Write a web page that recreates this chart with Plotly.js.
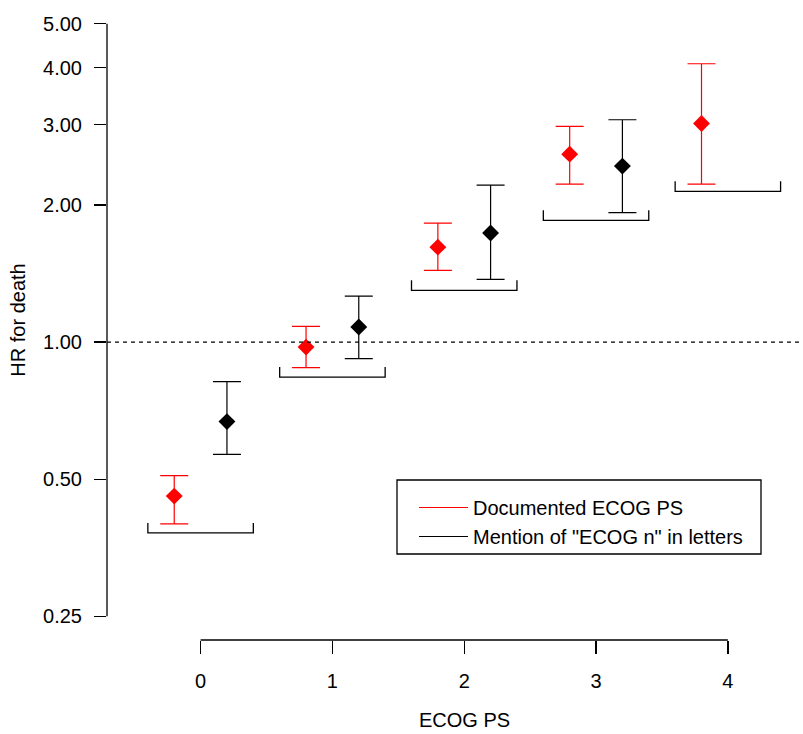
<!DOCTYPE html>
<html>
<head>
<meta charset="utf-8">
<script src="https://cdn.plot.ly/plotly-3.0.1.min.js"></script>
<style>html,body{margin:0;padding:0;background:#fff;}</style>
</head>
<body>
<div id="chart" style="width:803px;height:734px;"></div>
<script>
// ECOG performance status categories
var ecog = [0, 1, 2, 3, 4];
var tickLabelsY = ['0.25', '0.50', '1.00', '2.00', '3.00', '4.00', '5.00'];
var tickValsY = [0.25, 0.5, 1, 2, 3, 4, 5];

// Documented ECOG PS (red): hazard ratio and 95% CI
var redHR = [0.459, 0.975, 1.616, 2.586, 3.020];
var redLo = [0.399, 0.879, 1.437, 2.222, 2.222];
var redHi = [0.509, 1.083, 1.825, 2.975, 4.084];

// Mention of "ECOG n" in letters (black): hazard ratio and 95% CI
var blackPS = [0, 1, 2, 3];
var blackHR = [0.669, 1.079, 1.735, 2.434];
var blackLo = [0.567, 0.920, 1.373, 1.923];
var blackHi = [0.819, 1.262, 2.211, 3.077];

// group brackets under each ECOG category
var bracketY = [0.381, 0.838, 1.299, 1.850, 2.142];

var seriesNames = ['Documented ECOG PS', 'Mention of "ECOG n" in letters'];

var FONT = '"Liberation Sans", Arial, Helvetica, sans-serif';
var FS = 20;

function sub(a, b) { return a.map(function (v, i) { return v - b[i]; }); }

var redX = ecog.map(function (v) { return v - 0.2; });
var blackX = blackPS.map(function (v) { return v + 0.2; });

var bx = [], by = [];
ecog.forEach(function (g, i) {
  var b = bracketY[i], k = 1.052;
  bx.push(g - 0.4, g - 0.4, g + 0.4, g + 0.4, null);
  by.push(b * k, b, b, b * k, null);
});

var traces = [
  {x: [null], y: [null], type: 'scatter', mode: 'lines', name: seriesNames[0],
   line: {color: '#ff0000', width: 1.2}, hoverinfo: 'skip'},
  {x: [null], y: [null], type: 'scatter', mode: 'lines', name: seriesNames[1],
   line: {color: '#000000', width: 1.2}, hoverinfo: 'skip'},
  {x: bx, y: by, type: 'scatter', mode: 'lines', showlegend: false,
   line: {color: '#000000', width: 1.3}, hoverinfo: 'skip', connectgaps: false},
  {x: redX, y: redHR, type: 'scatter', mode: 'markers', showlegend: false,
   name: seriesNames[0],
   marker: {symbol: 'diamond', size: 13, color: '#ff0000'},
   error_y: {type: 'data', symmetric: false, array: sub(redHi, redHR), arrayminus: sub(redHR, redLo),
             color: '#ff0000', thickness: 1.2, width: 14}},
  {x: blackX, y: blackHR, type: 'scatter', mode: 'markers', showlegend: false,
   name: seriesNames[1],
   marker: {symbol: 'diamond', size: 13, color: '#000000'},
   error_y: {type: 'data', symmetric: false, array: sub(blackHi, blackHR), arrayminus: sub(blackHR, blackLo),
             color: '#000000', thickness: 1.2, width: 14}}
];

var lo = Math.log10(0.25), hi = Math.log10(5), pad = (hi - lo) * 0.04;

var layout = {
  width: 803, height: 734,
  margin: {l: 107, r: 0, t: 0, b: 94, pad: 0},
  paper_bgcolor: '#ffffff', plot_bgcolor: '#ffffff',
  font: {family: FONT, size: FS, color: '#000000'},
  showlegend: true,
  xaxis: {
    range: [-0.71, 4.57], showgrid: false, zeroline: false, showline: false,
    tickmode: 'array', tickvals: ecog, ticktext: ecog.map(String),
    ticks: 'outside', ticklen: 13, tickwidth: 1.3, tickcolor: '#000',
    ticklabelstandoff: 10,
    tickfont: {family: FONT, size: FS, color: '#000'},
    title: {text: ''}
  },
  yaxis: {
    type: 'log', range: [lo - pad, hi + pad], showgrid: false, zeroline: false, showline: false,
    tickmode: 'array', tickvals: tickValsY, ticktext: tickLabelsY,
    ticks: 'outside', ticklen: 12, tickwidth: 1.3, tickcolor: '#000',
    ticklabelstandoff: 8,
    tickfont: {family: FONT, size: FS, color: '#000'},
    title: {text: 'HR for death', font: {family: FONT, size: FS, color: '#000'}, standoff: 12}
  },
  annotations: [
    {text: 'ECOG PS', xref: 'x', yref: 'paper', x: 2, y: (640 - 720) / 640,
     xanchor: 'center', yanchor: 'middle', showarrow: false, borderpad: 0,
     font: {family: FONT, size: FS, color: '#000'}}
  ],
  legend: {
    x: (414 - 107) / 696, y: (640 - 488) / 640, xanchor: 'left', yanchor: 'top',
    bgcolor: 'rgba(0,0,0,0)', borderwidth: 0, itemwidth: 49,
    font: {family: FONT, size: FS, color: '#000'}
  },
  shapes: [
    // y axis line from first to last tick
    {type: 'line', xref: 'paper', yref: 'y', x0: 0, x1: 0, y0: 0.25, y1: 5,
     line: {color: '#000', width: 1.3}},
    // x axis line from first to last tick
    {type: 'line', xref: 'x', yref: 'paper', x0: 0, x1: 4, y0: 0, y1: 0,
     line: {color: '#000', width: 1.3}},
    // reference line HR = 1
    {type: 'line', xref: 'paper', yref: 'y', x0: 0, x1: 1, y0: 1, y1: 1,
     line: {color: '#000', width: 1.2, dash: '4px,4px'}},
    // legend box
    {type: 'rect', xref: 'paper', yref: 'paper',
     x0: (397 - 107) / 696, x1: (761 - 107) / 696, y0: (640 - 554) / 640, y1: (640 - 480) / 640,
     line: {color: '#000', width: 1.3}, fillcolor: 'rgba(0,0,0,0)'}
  ]
};

Plotly.newPlot('chart', traces, layout, {displayModeBar: false, staticPlot: true});
</script>
</body>
</html>
